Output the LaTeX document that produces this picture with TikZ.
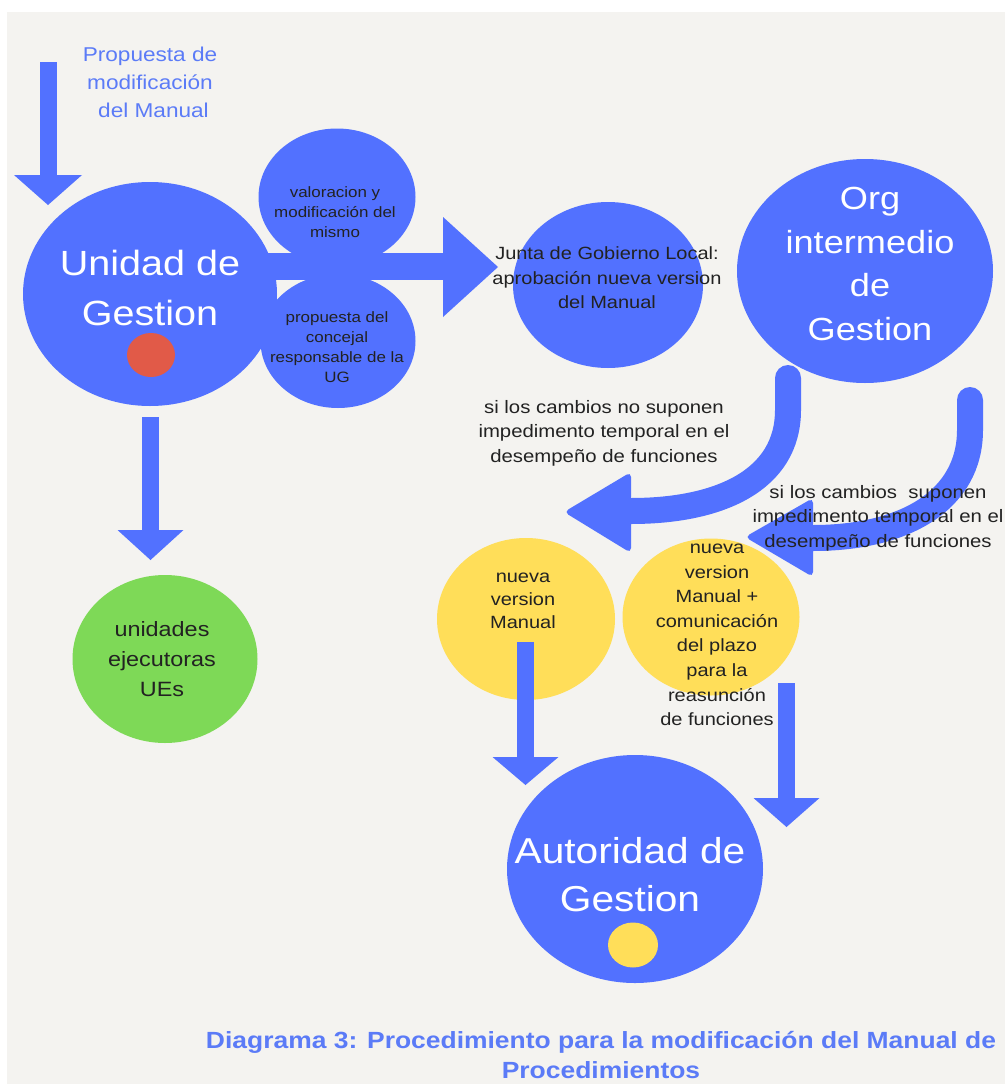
\documentclass[tikz,border=0pt]{standalone}
\usepackage{fontspec}
\setmainfont{Liberation Sans}[FakeStretch=1.13]
\usetikzlibrary{shapes.geometric}
\definecolor{bgc}{HTML}{F4F3F0}
\definecolor{cblue}{HTML}{5271FF}
\definecolor{cred}{HTML}{E15A48}
\definecolor{cyel}{HTML}{FFDE59}
\definecolor{cgreen}{HTML}{7ED957}
\definecolor{ctext}{HTML}{222222}
\definecolor{clabel}{HTML}{5B7BF7}
\begin{document}
\begin{tikzpicture}[x=1pt,y=-1pt,
  blob/.style={ellipse, inner sep=0pt, outer sep=0pt},
  bluec/.style={blob, fill=cblue},
  txt/.style={align=center, inner sep=0pt, text=ctext},
  whitetxt/.style={align=center, inner sep=0pt, text=white},
  shaft/.style={draw=cblue, line width=17pt},
  head/.style={fill=cblue},
  curvearrow/.style={draw=cblue, line width=26pt}
]
\useasboundingbox (0,0) rectangle (1005,1084);
\fill[white] (0,0) rectangle (1005,1084);
\fill[bgc] (7,12) rectangle (1005,1084);

% incoming arrow
\coordinate (inS) at (48,62);
\coordinate (inB) at (48,175);
\draw[shaft] (inS) -- (inB);
\fill[head] (inB) ++(-34,0) -- ++(68,0) -- ++(-34,30) -- cycle;

% Unidad de Gestion
\node[bluec, minimum width=254pt, minimum height=224pt] (ug) at (150,294) {};
\node[blob, fill=cred, minimum width=48pt, minimum height=44pt] (ugdot) at (151,355) {};

% small circles
\node[bluec, minimum width=157pt, minimum height=137pt] (val) at (337,197) {};
\node[bluec, minimum width=155pt, minimum height=134pt] (prc) at (338,341) {};

% Junta / Org
\node[bluec, minimum width=190pt, minimum height=166pt] (junta) at (608,285) {};
\node[bluec, minimum width=256pt, minimum height=224pt] (org) at (865,271) {};

% horizontal arrow
\coordinate (hS) at (265,266.5);
\coordinate (hB) at (443,266.5);
\draw[draw=cblue, line width=27pt] (hS) -- (hB);
\fill[head] (hB) ++(0,-49.5) -- ++(55,50) -- ++(-55,50) -- cycle;

% yellow circles
\node[blob, fill=cyel, minimum width=178pt, minimum height=162pt] (y1) at (526,619) {};
\node[blob, fill=cyel, minimum width=177pt, minimum height=157pt] (y2) at (711,617) {};

% curved arrows from Org
\coordinate (c1S) at (788,378);
\coordinate (c1E) at (631,511);
\draw[curvearrow, line cap=round] (c1S) -- (788,410) .. controls (788,480) and (720,511) .. (c1E);
\fill[head, rounded corners=5pt] (631,472) -- (564,512) -- (631,553) -- cycle;

\coordinate (c2S) at (970,400);
\coordinate (c2E) at (813,538);
\draw[curvearrow, line cap=round] (c2S) -- (970,430) .. controls (970,500) and (905,538) .. (c2E);
\fill[head, rounded corners=5pt] (813,498) -- (745,537) -- (813,577) -- cycle;

% Autoridad
\node[bluec, minimum width=256pt, minimum height=228pt] (ag) at (635,869) {};
\node[blob, fill=cyel, minimum width=50pt, minimum height=45pt] (agdot) at (633,945) {};

% arrows yellow -> Autoridad
\coordinate (y1S) at (525.5,642);
\coordinate (y1B) at (525.5,757);
\draw[shaft] (y1S) -- (y1B);
\fill[head] (y1B) ++(-33,0) -- ++(66,0) -- ++(-33,28) -- cycle;
\coordinate (y2S) at (786.5,683);
\coordinate (y2B) at (786.5,798);
\draw[shaft] (y2S) -- (y2B);
\fill[head] (y2B) ++(-33,0) -- ++(66,0) -- ++(-33,29) -- cycle;

% Unidad -> unidades ejecutoras
\coordinate (dS) at (150.5,417);
\coordinate (dB) at (150.5,530);
\draw[shaft] (dS) -- (dB);
\fill[head] (dB) ++(-33,0) -- ++(66,0) -- ++(-33,30) -- cycle;
\node[blob, fill=cgreen, minimum width=185pt, minimum height=168pt] (ue) at (165,659) {};

% texts
\node[align=center, inner sep=0pt, text=clabel, font=\fontsize{20}{28}\selectfont] (prop) at (150,82) {Propuesta de\\modificación\\\hspace*{7pt}del Manual};
\node[whitetxt, font=\fontsize{35}{50}\selectfont] (ugt) at (150,288) {Unidad de\\Gestion};
\node[txt, font=\fontsize{15}{20}\selectfont] (valt) at (335,212) {valoracion y\\modificación del\\mismo};
\node[txt, font=\fontsize{15}{20}\selectfont] (prct) at (337,347) {propuesta del\\concejal\\responsable de la\\UG};
\node[txt, font=\fontsize{17.7}{24.5}\selectfont] (juntat) at (607,278) {Junta de Gobierno Local:\\aprobación nueva version\\del Manual};
\node[whitetxt, font=\fontsize{32}{43.5}\selectfont] (orgt) at (870,264) {Org\\intermedio\\de\\Gestion};
\node[txt, font=\fontsize{18}{24.5}\selectfont] (c1t) at (604,433) {si los cambios no suponen\\impedimento temporal en el\\desempeño de funciones};
\node[txt, font=\fontsize{18}{24.5}\selectfont] (c2t) at (878,518) {si los cambios\ \ suponen\\impedimento temporal en el\\desempeño de funciones};
\node[txt, font=\fontsize{17.7}{23}\selectfont] (y1t) at (523,601) {nueva\\version\\Manual};
\node[txt, font=\fontsize{17.7}{24.6}\selectfont] (y2t) at (717,635) {nueva\\version\\Manual +\\comunicación\\del plazo\\para la\\reasunción\\de funciones};
\node[txt, font=\fontsize{20.7}{30}\selectfont] (uet) at (162,659) {unidades\\ejecutoras\\UEs};
\node[whitetxt, font=\fontsize{36}{48}\selectfont] (agt) at (630,875) {Autoridad de\\Gestion};
\node[align=center, inner sep=0pt, text=clabel, font=\bfseries\fontsize{23.4}{30}\selectfont] (cap) at (601,1055) {Diagrama 3: Procedimiento para la modificación del Manual de\\Procedimientos};
\end{tikzpicture}
\end{document}
